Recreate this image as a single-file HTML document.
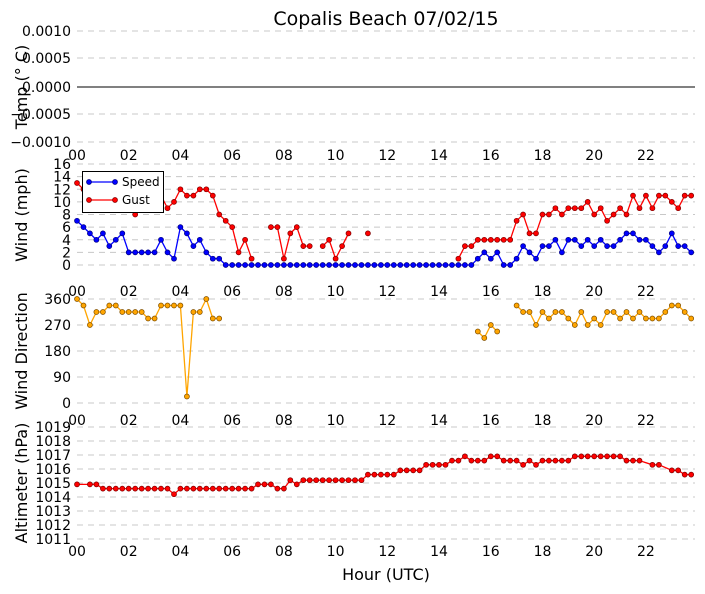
<!DOCTYPE html>
<html><head><meta charset="utf-8"><style>
body{margin:0;background:#fff;}
svg{display:block;font-family:"DejaVu Sans","Liberation Sans",sans-serif;}
</style></head><body>
<svg id="s" width="705" height="594" xmlns="http://www.w3.org/2000/svg"></svg>
<script>
const s=document.getElementById('s');
let h='';
const X=i=>77+i*6.465;
const XL=77,XR=695;
function grid(y){h+=`<line x1="${XL}" x2="${XR}" y1="${y}" y2="${y}" stroke="#c8c8c8" stroke-width="1" stroke-dasharray="6,5"/>`;}
function ylab(t,y){h+=`<text x="71" y="${y+5}" font-size="14" text-anchor="end">${t}</text>`;}
function xlabs(y){for(let k=0;k<=22;k+=2){h+=`<text x="${77+k*25.86}" y="${y+5}" font-size="14" text-anchor="middle">${String(k).padStart(2,'0')}</text>`;}}
function rot(t,y){h+=`<text transform="translate(27,${y}) rotate(-90)" font-size="16" text-anchor="middle">${t}</text>`;}
function series(vals,yf,col,edge,cont){
  let seg=[],pts='';
  const flush=()=>{if(seg.length>1)h+=`<polyline points="${seg.join(' ')}" fill="none" stroke="${col}" stroke-width="1.3"/>`;seg=[];};
  vals.forEach((v,i)=>{if(v===null){if(!cont)flush();return;}const p=[X(i).toFixed(1),yf(v).toFixed(1)];seg.push(p.join(','));pts+=`<circle cx="${p[0]}" cy="${p[1]}" r="2.5" fill="${col}" stroke="${edge}" stroke-width="0.7"/>`;});
  flush();h+=pts;
}
h+=`<text x="386" y="25" font-size="19" text-anchor="middle">Copalis Beach 07/02/15</text>`;
[31,58,114,142].forEach(grid);
h+=`<line x1="${XL}" x2="${XR}" y1="87" y2="87" stroke="#000" stroke-width="1"/>`;
[["0.0010",31],["0.0005",58],["0.0000",87],["\u22120.0005",114],["\u22120.0010",142]].forEach(a=>ylab(a[0],a[1]));
rot("Temp (\u00b0 C)",87);
xlabs(155);
const wy=v=>265-v*6.31;
for(let v=0;v<=16;v+=2){grid(wy(v));ylab(v,wy(v));}
rot("Wind (mph)",215);
const N=null;
let sp=[7,6,5,4,5,3,4,5,2,2,2,2,2,4,2,1,6,5,3,4,2,1,1];
for(let i=23;i<=61;i++)sp.push(0);
sp=sp.concat([1,2,1,2,0,0,1,3,2,1,3,3,4,2,4,4,3,4,3,4,3,3,4,5,5,4,4,3,2,3,5,3,3,2]);
let gu=[13,12,12,12,11,11,10,9,9,8,10,10,11,11,9,10,12,11,11,12,12,11,8,7,6,2,4,1,N,N,6,6,1,5,6,3,3,N,3,4,1,3,5,N,N,5];
while(gu.length<59)gu.push(N);
gu=gu.concat([1,3,3,4,4,4,4,4,4,7,8,5,5,8,8,9,8,9,9,9,10,8,9,7,8,9,8,11,9,11,9,11,11,10,9,11,11]);
series(sp,wy,"#0000ff","#000080");
series(gu,wy,"#ff0000","#800000");
h+=`<rect x="82.5" y="171.5" width="81" height="41" fill="#fff" stroke="#000" stroke-width="1"/>`;
h+=`<line x1="87" x2="117" y1="182" y2="182" stroke="#0000ff" stroke-width="1.3"/><circle cx="89" cy="182" r="2.5" fill="#0000ff" stroke="#000080" stroke-width="0.7"/><circle cx="115" cy="182" r="2.5" fill="#0000ff" stroke="#000080" stroke-width="0.7"/>`;
h+=`<line x1="87" x2="117" y1="200" y2="200" stroke="#ff0000" stroke-width="1.3"/><circle cx="89" cy="200" r="2.5" fill="#ff0000" stroke="#800000" stroke-width="0.7"/><circle cx="115" cy="200" r="2.5" fill="#ff0000" stroke="#800000" stroke-width="0.7"/>`;
h+=`<text x="122" y="186" font-size="12">Speed</text><text x="122" y="204" font-size="12">Gust</text>`;
xlabs(291);
const dy=v=>403-v*0.2889;
[0,90,180,270,360].forEach(v=>{grid(dy(v));ylab(v,dy(v));});
rot("Wind Direction",351);
let wd=[360,337.5,270,315,315,337.5,337.5,315,315,315,315,292.5,292.5,337.5,337.5,337.5,337.5,22.5,315,315,360,292.5,292.5];
while(wd.length<62)wd.push(N);
wd=wd.concat([247.5,225,270,247.5,N,N]);
wd=wd.concat([337.5,315,315,270,315,292.5,315,315,292.5,270,315,270,292.5,270,315,315,292.5,315,292.5,315,292.5,292.5,292.5,315,337.5,337.5,315,292.5]);
series(wd,dy,"#ffa500","#805000");
xlabs(420);
const ay=v=>539-(v-1011)*14;
for(let v=1011;v<=1019;v++){grid(ay(v));ylab(v,ay(v));}
rot("Altimeter (hPa)",483);
let al=[1014.9,N,1014.9,1014.9];
for(let i=4;i<=14;i++)al.push(1014.6);
al.push(1014.2);
for(let i=16;i<=27;i++)al.push(1014.6);
al=al.concat([1014.9,1014.9,1014.9,1014.6,1014.6,1015.2,1014.9]);
for(let i=35;i<=44;i++)al.push(1015.2);
for(let i=45;i<=49;i++)al.push(1015.6);
for(let i=50;i<=53;i++)al.push(1015.9);
for(let i=54;i<=57;i++)al.push(1016.3);
al=al.concat([1016.6,1016.6,1016.9,1016.6,1016.6,1016.6,1016.9,1016.9,1016.6,1016.6,1016.6,1016.3,1016.6,1016.3,1016.6,1016.6,1016.6,1016.6,1016.6]);
for(let i=77;i<=84;i++)al.push(1016.9);
al=al.concat([1016.6,1016.6,1016.6,N,1016.3,1016.3,N,1015.9,1015.9,1015.6,1015.6]);
series(al,ay,"#ff0000","#800000",true);
xlabs(551);
h+=`<text x="386" y="580" font-size="16" text-anchor="middle">Hour (UTC)</text>`;
s.innerHTML=h;
</script>
</body></html>
